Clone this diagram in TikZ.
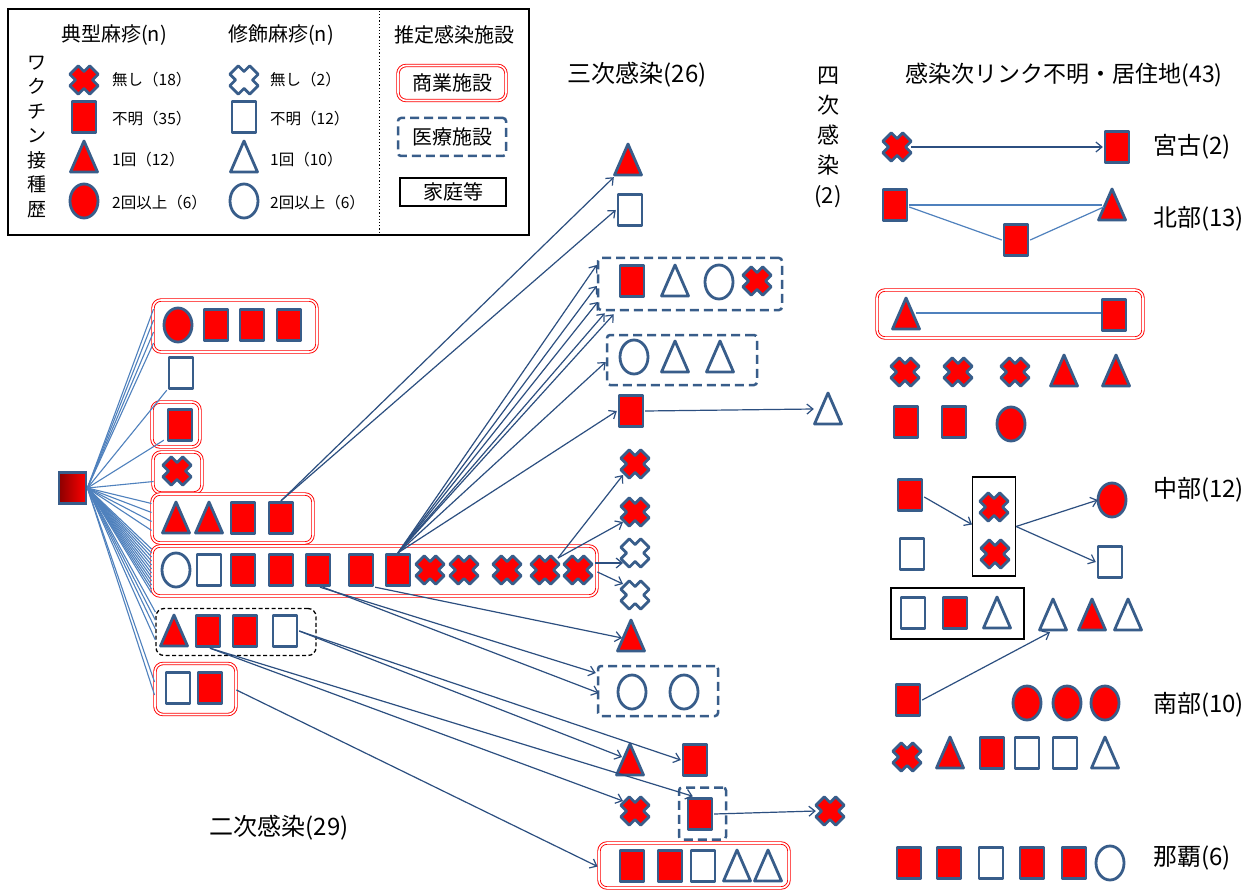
\documentclass[tikz,border=0pt]{standalone}
\usepackage{fontspec}
\setmainfont{Noto Sans CJK JP}
\usetikzlibrary{arrows.meta,calc}
\definecolor{bdr}{HTML}{385D8A}
\definecolor{fan}{HTML}{4F81BD}
\definecolor{arw}{HTML}{2C4F80}
\newcommand\fsz[1]{\fontsize{#1}{#1}\selectfont}
\newcommand\sy[4]{\node[symb] (#2) at (#3,#4) {}; \pic at (#3,#4) {#1};}
\tikzset{
 symb/.style={rectangle, inner sep=0pt, minimum width=28pt, minimum height=34pt},
 symline/.style={draw=bdr, line width=2.8pt, line join=round},
 pics/rR/.style={code={\draw[symline,fill=red] (-12,-15.5) rectangle (12,15.5);}},
 pics/rW/.style={code={\draw[symline,fill=white] (-12,-15.5) rectangle (12,15.5);}},
 pics/tR/.style={code={\draw[symline,fill=red] (-13.5,15) -- (13.5,15) -- (0,-16) -- cycle;}},
 pics/tW/.style={code={\draw[symline,fill=white] (-13.5,15) -- (13.5,15) -- (0,-16) -- cycle;}},
 pics/eR/.style={code={\draw[symline,fill=red] (0,0) ellipse [x radius=14pt, y radius=17pt];}},
 pics/eW/.style={code={\draw[symline,fill=white] (0,0) ellipse [x radius=14pt, y radius=17pt];}},
 pics/xR/.style={code={\draw[symline,fill=red,rotate=45] (6,14) -- (6,6) -- (14,6) -- (14,-6) -- (6,-6) -- (6,-14) -- (-6,-14) -- (-6,-6) -- (-14,-6) -- (-14,6) -- (-6,6) -- (-6,14) -- cycle;}},
 pics/xW/.style={code={\draw[symline,fill=white,rotate=45] (6,14) -- (6,6) -- (14,6) -- (14,-6) -- (6,-6) -- (6,-14) -- (-6,-14) -- (-6,-6) -- (-14,-6) -- (-14,6) -- (-6,6) -- (-6,14) -- cycle;}},
 combox/.style={draw=red, double=white, line width=0.9pt, double distance=1.6pt, rounded corners=8pt, inner sep=0pt},
 medbox/.style={draw=bdr, line width=2.5pt, dash pattern=on 9pt off 5pt, rounded corners=3pt, inner sep=0pt},
 homebox/.style={draw=black, line width=1.1pt, inner sep=0pt},
 blkdash/.style={draw=black, line width=1.3pt, dash pattern=on 4pt off 2.5pt, rounded corners=8pt, inner sep=0pt},
 fanline/.style={draw=fan, line width=1.1pt},
 arr/.style={draw=arw, line width=1.2pt, -{Straight Barb[length=6pt,width=10pt]}},
 thinline/.style={draw=fan, line width=1.2pt},
 ttl/.style={font=\fsz{24}, inner sep=0pt},
 hd/.style={font=\fsz{20}, inner sep=0pt},
 itm/.style={font=\fsz{15.5}, inner sep=0pt, anchor=west},
 reg/.style={font=\fsz{24}, inner sep=0pt, anchor=west},
}
\begin{document}
\begin{tikzpicture}[x=1pt,y=-1pt]
\useasboundingbox (0,0) rectangle (1246,890);
\fill[white] (0,0) rectangle (1246,890);

% ---------- legend ----------
\node[draw=black, line width=2.4pt, minimum width=521pt, minimum height=226pt, inner sep=0pt] (leg) at (268.5,122) {};
\draw[black, dotted, line width=1.2pt] ($(leg.north west)+(373,3)$) -- ($(leg.south west)+(373,-3)$);
\node[hd] (h1t) at (114,35) {典型麻疹(n)};
\node[hd] (h2t) at (281,35) {修飾麻疹(n)};
\node[hd] (h3t) at (454,35) {推定感染施設};
\node[align=center, font=\fontsize{19}{24.5}\selectfont, inner sep=0pt] (vt) at (37,137) {ワ\\ク\\チ\\ン\\接\\種\\歴};
\sy{xR}{lx1}{84}{80}
\sy{rR}{lr1}{84}{117}
\sy{tR}{lt1}{84}{157}
\sy{eR}{le1}{84}{201}
\sy{xW}{lx2}{244}{80}
\sy{rW}{lr2}{244}{117}
\sy{tW}{lt2}{244}{157}
\sy{eW}{le2}{244}{201}
\node[itm] (i1) at (112,80) {無し（18）};
\node[itm] (i2) at (112,119) {不明（35）};
\node[itm] (i3) at (112,160) {1回（12）};
\node[itm] (i4) at (112,203) {2回以上（6）};
\node[itm] (j1) at (270,80) {無し（2）};
\node[itm] (j2) at (270,119) {不明（12）};
\node[itm] (j3) at (270,160) {1回（10）};
\node[itm] (j4) at (270,203) {2回以上（6）};
\node[combox, minimum width=108pt, minimum height=35pt, font=\fsz{20}] (L1) at (452,83) {商業施設};
\node[medbox, minimum width=108pt, minimum height=38pt, font=\fsz{20}] (L2) at (452,137) {医療施設};
\node[homebox, minimum width=106pt, minimum height=28pt, font=\fsz{20}] (L3) at (453,192) {家庭等};

% ---------- titles ----------
\node[ttl] (tl3) at (637,75) {三次感染(26)};
\node[font=\fsz{23}, inner sep=0pt] (tlr) at (1064,75) {感染次リンク不明・居住地(43)};
\node[ttl] (tl2) at (279,828) {二次感染(29)};
\node[align=center, font=\fontsize{22}{30}\selectfont, inner sep=0pt] (tl4) at (828,137) {四\\次\\感\\染\\(2)};
\node[reg] (rg1) at (1153,147) {宮古(2)};
\node[reg] (rg2) at (1153,219) {北部(13)};
\node[reg] (rg3) at (1153,490) {中部(12)};
\node[reg] (rg4) at (1153,705) {南部(10)};
\node[reg] (rg5) at (1153,858) {那覇(6)};

% ---------- group boxes ----------
\node[combox, minimum width=164pt, minimum height=52pt] (gA) at (235,326) {};
\node[combox, minimum width=48pt, minimum height=45pt] (gB) at (176,424.5) {};
\node[combox, minimum width=49pt, minimum height=41pt] (gC) at (177.5,472.5) {};
\node[combox, minimum width=161pt, minimum height=49pt] (gD) at (232.5,518.5) {};
\node[combox, minimum width=445pt, minimum height=50pt] (gE) at (374.5,571) {};
\node[blkdash, minimum width=160pt, minimum height=47pt] (gF) at (236,632) {};
\node[combox, minimum width=81pt, minimum height=51pt] (gG) at (195.5,689) {};
\node[medbox, minimum width=184pt, minimum height=52pt] (b1) at (690,284) {};
\node[medbox, minimum width=150pt, minimum height=50pt] (b2) at (682,360) {};
\node[medbox, minimum width=120pt, minimum height=50pt] (b3) at (658,691) {};
\node[medbox, minimum width=47pt, minimum height=52pt] (b4) at (702.5,813.5) {};
\node[combox, minimum width=190pt, minimum height=45pt] (b5) at (694,865.5) {};
\node[combox, minimum width=266pt, minimum height=48pt] (rb) at (1010,314) {};
\node[homebox, minimum width=43pt, minimum height=99pt] (hb) at (994,526.5) {};
\node[homebox, minimum width=133pt, minimum height=51pt] (hd) at (957.5,613.5) {};

% ---------- source ----------
\node[draw=bdr, line width=2.8pt, minimum width=27pt, minimum height=31pt, inner sep=0pt, left color=red!55!black, right color=red] (src) at (72.5,488) {};

% ---------- secondary ----------
\sy{eR}{a1}{178}{325}
\sy{rR}{a2}{216}{325}
\sy{rR}{a3}{252}{325}
\sy{rR}{a4}{289}{325}
\sy{rW}{w0}{181}{373}
\sy{rR}{bb1}{180}{425}
\sy{xR}{cc1}{177}{471}
\sy{tR}{d1}{176}{518}
\sy{tR}{d2}{209}{518}
\sy{rR}{d3}{243}{518}
\sy{rR}{d4}{281}{518}
\sy{eW}{e1}{176}{570}
\sy{rW}{e2}{209}{570}
\sy{rR}{e3}{243}{570}
\sy{rR}{e4}{281}{570}
\sy{rR}{e5}{318}{570}
\sy{rR}{e6}{361}{570}
\sy{rR}{e7}{398}{570}
\sy{xR}{e8}{430}{570}
\sy{xR}{e9}{464}{570}
\sy{xR}{e10}{507}{570}
\sy{xR}{e11}{545}{570}
\sy{xR}{e12}{578}{570}
\sy{tR}{f1}{174}{631}
\sy{rR}{f2}{208}{631}
\sy{rR}{f3}{245}{631}
\sy{rW}{f4}{285}{631}
\sy{rW}{g1}{178}{688}
\sy{rR}{g2}{210}{688}

% ---------- tertiary ----------
\sy{tR}{t1}{628}{160}
\sy{rW}{r2}{630}{210}
\sy{rR}{b1a}{632}{281}
\sy{tW}{b1b}{675}{281}
\sy{eW}{b1c}{719}{282}
\sy{xR}{b1d}{757}{281}
\sy{eW}{b2a}{634}{357}
\sy{tW}{b2b}{675}{357}
\sy{tW}{b2c}{720}{357}
\sy{rR}{r5}{631}{411}
\sy{tW}{w4}{828}{409}
\sy{xR}{c1}{635}{464}
\sy{xR}{c2}{635}{512}
\sy{xW}{w1}{635}{553}
\sy{xW}{w2}{635}{595}
\sy{tR}{t2}{631}{636}
\sy{eW}{b3a}{632}{692}
\sy{eW}{b3b}{684}{692}
\sy{tR}{t3}{630}{760}
\sy{rR}{r7}{695}{760}
\sy{xR}{c3}{635}{811}
\sy{rR}{b4r}{700}{814}
\sy{xR}{q2}{830}{811}
\sy{rR}{b5a}{632}{866}
\sy{rR}{b5b}{670}{866}
\sy{rW}{b5c}{703}{866}
\sy{tW}{b5d}{737}{866}
\sy{tW}{b5e}{768}{866}

% ---------- right column ----------
\sy{xR}{m1}{897}{147}
\sy{rR}{m2}{1117}{147}
\sy{rR}{n1}{895}{205}
\sy{tR}{n3}{1112}{205}
\sy{rR}{n2}{1016}{240}
\sy{tR}{p1}{906}{314}
\sy{rR}{p2}{1114}{315}
\sy{xR}{u1}{905}{372}
\sy{xR}{u2}{958}{372}
\sy{xR}{u3}{1015}{372}
\sy{tR}{u4}{1064}{371}
\sy{tR}{u5}{1116}{371}
\sy{rR}{v1}{906}{422}
\sy{rR}{v2}{954}{422}
\sy{eR}{v3}{1011}{424}
\sy{rR}{h1}{910}{495}
\sy{rW}{h2}{912}{554}
\sy{xR}{hc1}{994}{507}
\sy{xR}{hc2}{995}{554}
\sy{eR}{h3}{1112}{500}
\sy{rW}{h4}{1110}{562}
\sy{rW}{hd1}{913}{613}
\sy{rR}{hd2}{955}{613}
\sy{tW}{hd3}{997}{613}
\sy{tW}{k1}{1053}{615}
\sy{tR}{k2}{1092}{615}
\sy{tW}{k3}{1128}{615}
\sy{rR}{s1}{908}{700}
\sy{eR}{s2}{1027}{703}
\sy{eR}{s3}{1067}{703}
\sy{eR}{s4}{1105}{703}
\sy{xR}{y1}{907}{757}
\sy{tR}{y2}{950}{753}
\sy{rR}{y3}{992}{753}
\sy{rW}{y4}{1027}{753}
\sy{rW}{y5}{1065}{753}
\sy{tW}{y6}{1105}{753}
\sy{rR}{z1}{909}{863}
\sy{rR}{z2}{949}{863}
\sy{rW}{z3}{991}{863}
\sy{rR}{z4}{1032}{863}
\sy{rR}{z5}{1074}{863}
\sy{eW}{z6}{1110}{863}

% ---------- fan lines ----------
\foreach \d in {-17,-6,6,17} \draw[fanline] (src.east) -- ($(gA.west)+(1,\d)$);
\draw[fanline] (src.east) -- (w0.south west);
\draw[fanline] (src.east) -- ($(bb1.south west)+(-2,-2)$);
\draw[fanline] (src.east) -- ($(gC.west)+(1,9)$);
\foreach \d in {-15,-6,3,12} \draw[fanline] (src.east) -- ($(gD.west)+(0,\d)$);
\foreach \d in {-22,-18,...,22} \draw[fanline] (src.east) -- ($(gE.west)+(0,\d)$);
\foreach \d in {-20,-12,-3,8} \draw[fanline] (src.east) -- ($(gF.west)+(0,\d)$);
\foreach \d in {-7,6} \draw[fanline] (src.east) -- ($(gG.west)+(0,\d)$);

% ---------- arrows ----------
\draw[arr] (d4.north) -- (t1.south west);
\draw[arr] (d4.north) -- (r2.west);
\draw[arr] (e7.north) -- ($(b1.west)+(0,-19)$);
\draw[arr] (e7.north) -- ($(b1.west)+(0,2)$);
\draw[arr] (e7.north) -- ($(b1.west)+(1,18)$);
\draw[arr] (e7.north) -- ($(b1.south west)+(8,2)$);
\draw[arr] (e7.north) -- ($(b1.south west)+(17,3)$);
\draw[arr] (e7.north) -- ($(b2.west)+(0,2)$);
\draw[arr] (e7.north) -- (r5.west);
\draw[arr] ($(e11.center)+(13,-12)$) -- ($(c1.center)+(-12,11)$);
\draw[arr] ($(e11.center)+(13,-12)$) -- ($(c2.center)+(-12,10)$);
\draw[arr] ($(gE.east)+(-2,-8)$) -- ($(w1.center)+(-12,10)$);
\draw[arr] ($(gE.east)+(0,1)$) -- ($(w2.center)+(-12,-11)$);
\draw[arr] ($(e5.south)+(2,0)$) -- ($(b3.west)+(-1,-18)$);
\draw[arr] ($(e5.south)+(5,0)$) -- ($(b3.west)+(2,2)$);
\draw[arr] (e6.south east) -- ($(t2.center)+(-9,2)$);
\draw[arr] (f4.east) -- (r7.west);
\draw[arr] (f4.east) -- ($(t3.center)+(-8,-3)$);
\draw[arr] ($(f2.south)+(2,0)$) -- ($(b4.north west)+(15,10)$);
\draw[arr] ($(f2.south)+(2,0)$) -- ($(c3.center)+(-12,-10)$);
\draw[arr] ($(gG.east)+(0,1)$) -- ($(b5.west)+(-1,1)$);
\draw[arr] (r5.east) -- (w4.west);
\draw[arr] (b4r.east) -- (q2.west);
\draw[arr] (m1.east) -- (m2.west);
\draw[arr] ($(h1.east)+(0,2)$) -- ($(hb.west)+(0,-2)$);
\draw[arr] (hb.east) -- (h3.west);
\draw[arr] (hb.east) -- (h4.west);
\draw[arr] (s1.east) -- ($(k1.south)+(-3,0)$);
\draw[thinline] (n1.east) -- ($(n3.west)+(4,0)$);
\draw[thinline] ($(n1.east)+(0,2)$) -- (n2.west);
\draw[thinline] (n2.east) -- ($(n3.west)+(6,2)$);
\draw[thinline] ($(p1.east)+(-4,-1)$) -- ($(p2.west)+(1,-2)$);
\end{tikzpicture}
\end{document}
